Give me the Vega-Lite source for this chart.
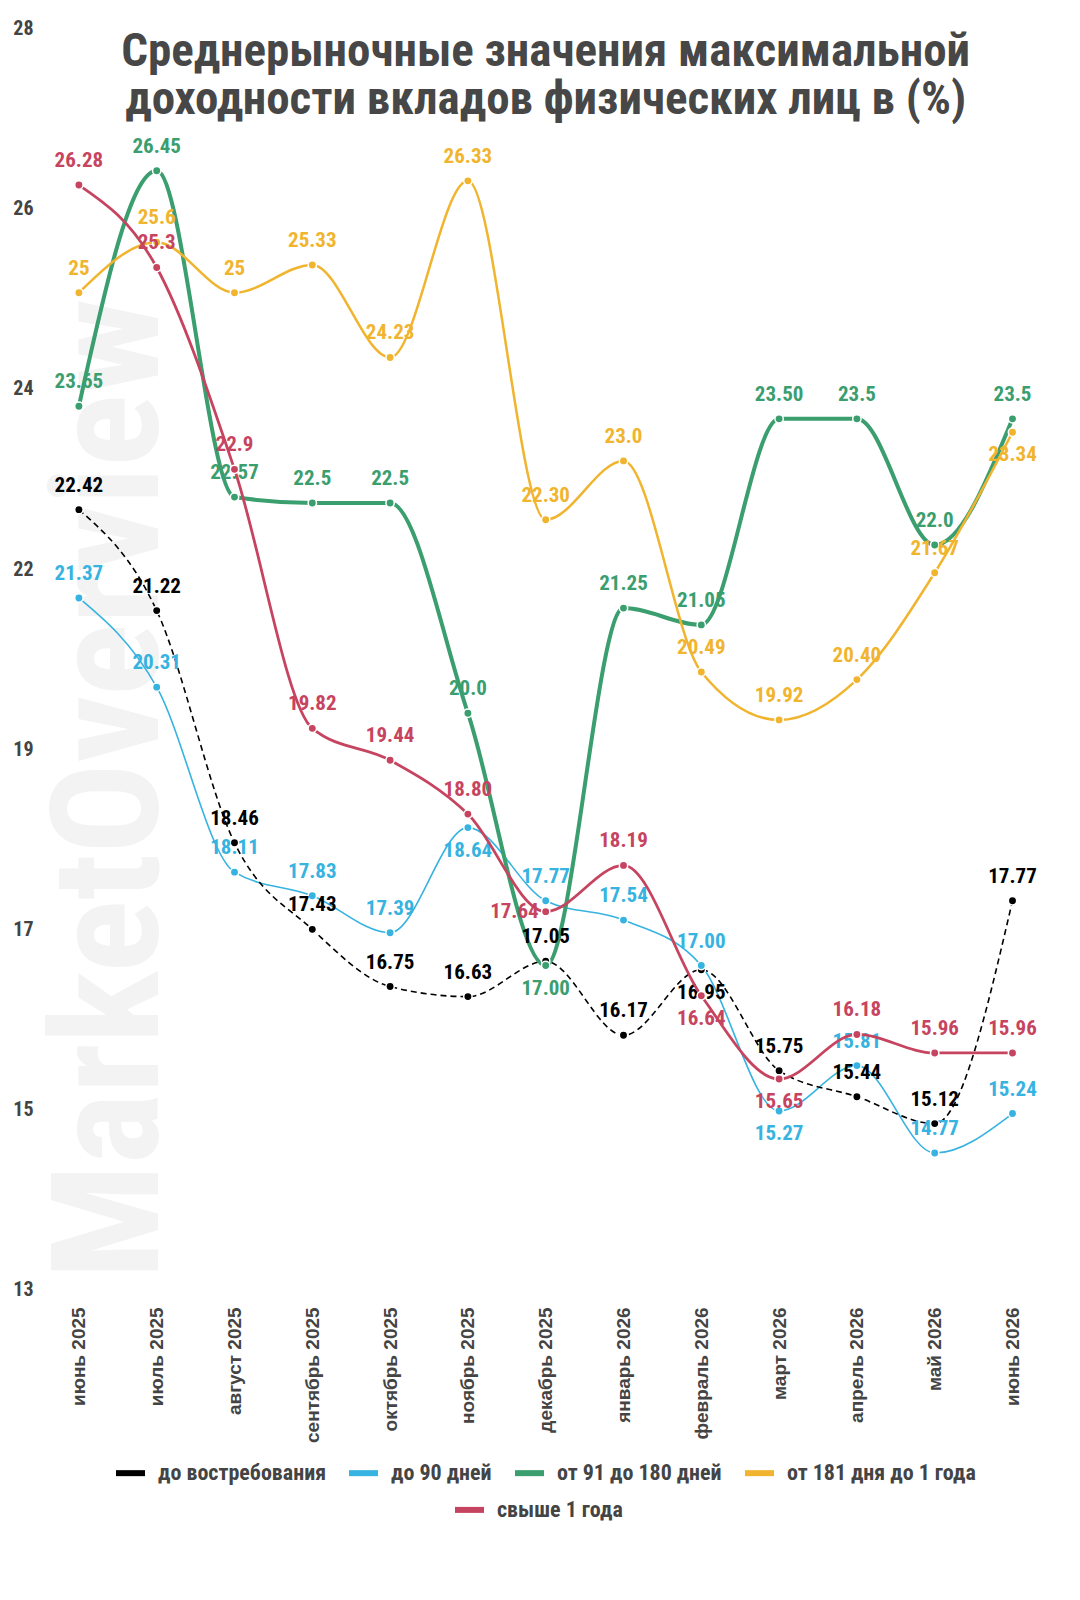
{
  "$schema": "https://vega.github.io/schema/vega-lite/v6.json",
  "width": 1011.4,
  "height": 1261.5,
  "autosize": {"type": "none"},
  "padding": {"left": 40, "top": 40.4, "right": 28.6, "bottom": 298.1},
  "background": "white",
  "title": {
    "text": ["Среднерыночные значения максимальной", "доходности вкладов физических лиц в (%)"],
    "font": "Roboto Condensed, Liberation Sans Narrow, DejaVu Sans Condensed, Roboto",
    "fontSize": 47,
    "fontWeight": "bold",
    "color": "#474747",
    "anchor": "middle",
    "baseline": "alphabetic",
    "lineHeight": 48.4,
    "offset": -143
  },
  "datasets": {
    "rates": [
      {"series": "до востребования", "month": "июнь 2025", "v": 22.42, "t": "22.42"},
      {"series": "до востребования", "month": "июль 2025", "v": 21.22, "t": "21.22"},
      {"series": "до востребования", "month": "август 2025", "v": 18.46, "t": "18.46"},
      {"series": "до востребования", "month": "сентябрь 2025", "v": 17.43, "t": "17.43"},
      {"series": "до востребования", "month": "октябрь 2025", "v": 16.75, "t": "16.75"},
      {"series": "до востребования", "month": "ноябрь 2025", "v": 16.63, "t": "16.63"},
      {"series": "до востребования", "month": "декабрь 2025", "v": 17.05, "t": "17.05"},
      {"series": "до востребования", "month": "январь 2026", "v": 16.17, "t": "16.17"},
      {"series": "до востребования", "month": "февраль 2026", "v": 16.95, "t": "16.95"},
      {"series": "до востребования", "month": "март 2026", "v": 15.75, "t": "15.75"},
      {"series": "до востребования", "month": "апрель 2026", "v": 15.44, "t": "15.44"},
      {"series": "до востребования", "month": "май 2026", "v": 15.12, "t": "15.12"},
      {"series": "до востребования", "month": "июнь 2026", "v": 17.77, "t": "17.77"},
      {"series": "до 90 дней", "month": "июнь 2025", "v": 21.37, "t": "21.37"},
      {"series": "до 90 дней", "month": "июль 2025", "v": 20.31, "t": "20.31"},
      {"series": "до 90 дней", "month": "август 2025", "v": 18.11, "t": "18.11"},
      {"series": "до 90 дней", "month": "сентябрь 2025", "v": 17.83, "t": "17.83"},
      {"series": "до 90 дней", "month": "октябрь 2025", "v": 17.39, "t": "17.39"},
      {"series": "до 90 дней", "month": "ноябрь 2025", "v": 18.64, "t": "18.64"},
      {"series": "до 90 дней", "month": "декабрь 2025", "v": 17.77, "t": "17.77"},
      {"series": "до 90 дней", "month": "январь 2026", "v": 17.54, "t": "17.54"},
      {"series": "до 90 дней", "month": "февраль 2026", "v": 17.0, "t": "17.00"},
      {"series": "до 90 дней", "month": "март 2026", "v": 15.27, "t": "15.27"},
      {"series": "до 90 дней", "month": "апрель 2026", "v": 15.81, "t": "15.81"},
      {"series": "до 90 дней", "month": "май 2026", "v": 14.77, "t": "14.77"},
      {"series": "до 90 дней", "month": "июнь 2026", "v": 15.24, "t": "15.24"},
      {"series": "от 91 до 180 дней", "month": "июнь 2025", "v": 23.65, "t": "23.65"},
      {"series": "от 91 до 180 дней", "month": "июль 2025", "v": 26.45, "t": "26.45"},
      {"series": "от 91 до 180 дней", "month": "август 2025", "v": 22.57, "t": "22.57"},
      {"series": "от 91 до 180 дней", "month": "сентябрь 2025", "v": 22.5, "t": "22.5"},
      {"series": "от 91 до 180 дней", "month": "октябрь 2025", "v": 22.5, "t": "22.5"},
      {"series": "от 91 до 180 дней", "month": "ноябрь 2025", "v": 20.0, "t": "20.0"},
      {"series": "от 91 до 180 дней", "month": "декабрь 2025", "v": 17.0, "t": "17.00"},
      {"series": "от 91 до 180 дней", "month": "январь 2026", "v": 21.25, "t": "21.25"},
      {"series": "от 91 до 180 дней", "month": "февраль 2026", "v": 21.05, "t": "21.05"},
      {"series": "от 91 до 180 дней", "month": "март 2026", "v": 23.5, "t": "23.50"},
      {"series": "от 91 до 180 дней", "month": "апрель 2026", "v": 23.5, "t": "23.5"},
      {"series": "от 91 до 180 дней", "month": "май 2026", "v": 22.0, "t": "22.0"},
      {"series": "от 91 до 180 дней", "month": "июнь 2026", "v": 23.5, "t": "23.5"},
      {"series": "от 181 дня до 1 года", "month": "июнь 2025", "v": 25.0, "t": "25"},
      {"series": "от 181 дня до 1 года", "month": "июль 2025", "v": 25.6, "t": "25.6"},
      {"series": "от 181 дня до 1 года", "month": "август 2025", "v": 25.0, "t": "25"},
      {"series": "от 181 дня до 1 года", "month": "сентябрь 2025", "v": 25.33, "t": "25.33"},
      {"series": "от 181 дня до 1 года", "month": "октябрь 2025", "v": 24.23, "t": "24.23"},
      {"series": "от 181 дня до 1 года", "month": "ноябрь 2025", "v": 26.33, "t": "26.33"},
      {"series": "от 181 дня до 1 года", "month": "декабрь 2025", "v": 22.3, "t": "22.30"},
      {"series": "от 181 дня до 1 года", "month": "январь 2026", "v": 23.0, "t": "23.0"},
      {"series": "от 181 дня до 1 года", "month": "февраль 2026", "v": 20.49, "t": "20.49"},
      {"series": "от 181 дня до 1 года", "month": "март 2026", "v": 19.92, "t": "19.92"},
      {"series": "от 181 дня до 1 года", "month": "апрель 2026", "v": 20.4, "t": "20.40"},
      {"series": "от 181 дня до 1 года", "month": "май 2026", "v": 21.67, "t": "21.67"},
      {"series": "от 181 дня до 1 года", "month": "июнь 2026", "v": 23.34, "t": "23.34"},
      {"series": "свыше 1 года", "month": "июнь 2025", "v": 26.28, "t": "26.28"},
      {"series": "свыше 1 года", "month": "июль 2025", "v": 25.3, "t": "25.3"},
      {"series": "свыше 1 года", "month": "август 2025", "v": 22.9, "t": "22.9"},
      {"series": "свыше 1 года", "month": "сентябрь 2025", "v": 19.82, "t": "19.82"},
      {"series": "свыше 1 года", "month": "октябрь 2025", "v": 19.44, "t": "19.44"},
      {"series": "свыше 1 года", "month": "ноябрь 2025", "v": 18.8, "t": "18.80"},
      {"series": "свыше 1 года", "month": "декабрь 2025", "v": 17.64, "t": "17.64"},
      {"series": "свыше 1 года", "month": "январь 2026", "v": 18.19, "t": "18.19"},
      {"series": "свыше 1 года", "month": "февраль 2026", "v": 16.64, "t": "16.64"},
      {"series": "свыше 1 года", "month": "март 2026", "v": 15.65, "t": "15.65"},
      {"series": "свыше 1 года", "month": "апрель 2026", "v": 16.18, "t": "16.18"},
      {"series": "свыше 1 года", "month": "май 2026", "v": 15.96, "t": "15.96"},
      {"series": "свыше 1 года", "month": "июнь 2026", "v": 15.96, "t": "15.96"}
    ],
    "watermark": [
      {"wm": "MarketOverview", "month": "июнь 2025", "v": 19.1}
    ]
  },
  "data": {"name": "rates"},
  "encoding": {
    "x": {
      "field": "month",
      "type": "ordinal",
      "scale": {
        "type": "point",
        "padding": 0.5,
        "domain": ["июнь 2025", "июль 2025", "август 2025", "сентябрь 2025", "октябрь 2025", "ноябрь 2025", "декабрь 2025", "январь 2026", "февраль 2026", "март 2026", "апрель 2026", "май 2026", "июнь 2026"]
      },
      "axis": {
        "title": null,
        "labelAngle": -90,
        "domain": false,
        "ticks": false,
        "grid": false,
        "labelFont": "Liberation Sans",
        "labelFontSize": 19,
        "labelFontWeight": "bold",
        "labelColor": "#444444",
        "labelPadding": 5
      }
    },
    "y": {
      "field": "v",
      "type": "quantitative",
      "scale": {"domain": [13, 28], "nice": false, "zero": false},
      "axis": {
        "title": null,
        "values": [13, 15.142857142857142, 17.285714285714285, 19.428571428571427, 21.571428571428573, 23.714285714285715, 25.857142857142858, 28],
        "format": ".0f",
        "domain": false,
        "ticks": false,
        "grid": false,
        "labelFont": "Roboto Condensed, Liberation Sans Narrow, DejaVu Sans Condensed, Roboto",
        "labelFontSize": 20,
        "labelFontWeight": "bold",
        "labelColor": "#444444",
        "labelPadding": 7,
        "labelOffset": -12
      }
    }
  },
  "layer": [
    {
      "data": {"name": "watermark"},
      "mark": {
        "type": "text",
        "angle": 270,
        "align": "center",
        "baseline": "alphabetic",
        "dy": 79,
        "font": "Liberation Sans Narrow, Roboto Condensed, DejaVu Sans Condensed, Liberation Sans",
        "fontSize": 151,
        "fontWeight": "bold",
        "color": "#f3f3f3"
      },
      "encoding": {"text": {"field": "wm"}}
    },
    {
      "transform": [{"filter": "datum.series !== 'свыше 1 года'"}],
      "layer": [
        {
          "transform": [{"filter": "datum.series === 'до 90 дней'"}],
          "mark": {"type": "line", "interpolate": "monotone", "strokeWidth": 1.6},
          "encoding": {
            "color": {"field": "series", "type": "nominal",
              "scale": {"domain": ["до востребования", "до 90 дней", "от 91 до 180 дней", "от 181 дня до 1 года"], "range": ["#000000", "#36b3e0", "#3a9e6e", "#f1b42e"]},
              "legend": {
                "title": null, "orient": "none", "legendX": 73, "legendY": 1415,
                "direction": "horizontal", "columns": 4, "columnPadding": 11,
                "symbolType": "stroke", "symbolStrokeWidth": 6, "symbolSize": 841,
                "labelFont": "Roboto Condensed, Liberation Sans Narrow, DejaVu Sans Condensed, Roboto",
                "labelFontSize": 22, "labelFontWeight": "bold", "labelColor": "#444444",
                "labelOffset": 10, "labelLimit": 0
              }}
          }
        },
        {
          "transform": [{"filter": "datum.series === 'до востребования'"}],
          "mark": {"type": "line", "interpolate": "monotone", "strokeWidth": 1.6, "strokeDash": [6, 4]},
          "encoding": {"color": {"field": "series", "type": "nominal", "legend": null}}
        },
        {
          "transform": [{"filter": "datum.series === 'от 91 до 180 дней'"}],
          "mark": {"type": "line", "interpolate": "monotone", "strokeWidth": 4},
          "encoding": {"color": {"field": "series", "type": "nominal", "legend": null}}
        },
        {
          "transform": [{"filter": "datum.series === 'от 181 дня до 1 года'"}],
          "mark": {"type": "line", "interpolate": "monotone", "strokeWidth": 2.5},
          "encoding": {"color": {"field": "series", "type": "nominal", "legend": null}}
        },
        {
          "mark": {"type": "circle", "size": 70, "opacity": 1, "stroke": "white", "strokeWidth": 1.5},
          "encoding": {"color": {"field": "series", "type": "nominal", "legend": null}}
        },
        {
          "transform": [{"filter": "indexof(['от 91 до 180 дней|декабрь 2025', 'до востребования|февраль 2026', 'до 90 дней|март 2026', 'от 181 дня до 1 года|июнь 2026', 'до 90 дней|ноябрь 2025'], datum.series + '|' + datum.month) < 0"}],
          "mark": {"type": "text", "dy": -24, "baseline": "middle", "font": "Roboto Condensed, Liberation Sans Narrow, DejaVu Sans Condensed, Roboto", "fontSize": 21, "fontWeight": "bold"},
          "encoding": {"text": {"field": "t"}, "color": {"field": "series", "type": "nominal", "legend": null}}
        },
        {
          "transform": [{"filter": "indexof(['от 91 до 180 дней|декабрь 2025', 'до востребования|февраль 2026', 'до 90 дней|март 2026', 'от 181 дня до 1 года|июнь 2026', 'до 90 дней|ноябрь 2025'], datum.series + '|' + datum.month) >= 0"}],
          "mark": {"type": "text", "dy": 23, "baseline": "middle", "font": "Roboto Condensed, Liberation Sans Narrow, DejaVu Sans Condensed, Roboto", "fontSize": 21, "fontWeight": "bold"},
          "encoding": {"text": {"field": "t"}, "color": {"field": "series", "type": "nominal", "legend": null}}
        }
      ]
    },
    {
      "transform": [{"filter": "datum.series === 'свыше 1 года'"}],
      "layer": [
        {
          "mark": {"type": "line", "interpolate": "monotone", "strokeWidth": 2.8},
          "encoding": {
            "color": {"field": "series", "type": "nominal",
              "scale": {"domain": ["свыше 1 года"], "range": ["#c74460"]},
              "legend": {
                "title": null, "orient": "none", "legendX": 412, "legendY": 1452,
                "direction": "horizontal",
                "symbolType": "stroke", "symbolStrokeWidth": 6, "symbolSize": 841,
                "labelFont": "Roboto Condensed, Liberation Sans Narrow, DejaVu Sans Condensed, Roboto",
                "labelFontSize": 22, "labelFontWeight": "bold", "labelColor": "#444444",
                "labelOffset": 10, "labelLimit": 0
              }}
          }
        },
        {
          "mark": {"type": "circle", "size": 70, "opacity": 1, "stroke": "white", "strokeWidth": 1.5},
          "encoding": {"color": {"field": "series", "type": "nominal", "legend": null}}
        },
        {
          "transform": [{"filter": "indexof(['февраль 2026', 'март 2026', 'декабрь 2025'], datum.month) < 0"}],
          "mark": {"type": "text", "dy": -24, "baseline": "middle", "font": "Roboto Condensed, Liberation Sans Narrow, DejaVu Sans Condensed, Roboto", "fontSize": 21, "fontWeight": "bold"},
          "encoding": {"text": {"field": "t"}, "color": {"field": "series", "type": "nominal", "legend": null}}
        },
        {
          "transform": [{"filter": "indexof(['февраль 2026', 'март 2026'], datum.month) >= 0"}],
          "mark": {"type": "text", "dy": 23, "baseline": "middle", "font": "Roboto Condensed, Liberation Sans Narrow, DejaVu Sans Condensed, Roboto", "fontSize": 21, "fontWeight": "bold"},
          "encoding": {"text": {"field": "t"}, "color": {"field": "series", "type": "nominal", "legend": null}}
        },
        {
          "transform": [{"filter": "datum.month === 'декабрь 2025'"}],
          "mark": {"type": "text", "dx": -7, "align": "right", "baseline": "middle", "font": "Roboto Condensed, Liberation Sans Narrow, DejaVu Sans Condensed, Roboto", "fontSize": 21, "fontWeight": "bold"},
          "encoding": {"text": {"field": "t"}, "color": {"field": "series", "type": "nominal", "legend": null}}
        }
      ]
    }
  ],
  "resolve": {"scale": {"color": "independent"}, "legend": {"color": "independent"}},
  "config": {
    "view": {"stroke": null},
    "legend": {"padding": 0}
  }
}
